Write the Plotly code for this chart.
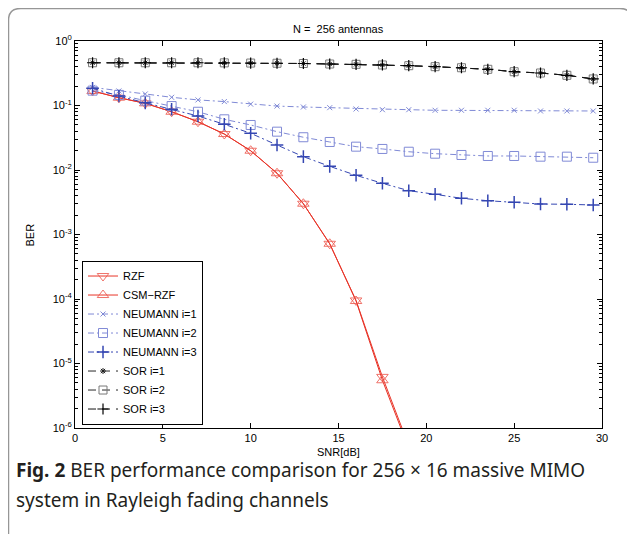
import plotly.graph_objects as go

# ---------------- data ----------------
snr = [1, 2.5, 4, 5.5, 7, 8.5, 10, 11.5, 13, 14.5, 16, 17.5, 19, 20.5, 22, 23.5, 25, 26.5, 28, 29.5]

rzf = [0.168, 0.132, 0.108, 0.080, 0.0561, 0.0361, 0.0199, 0.0089, 0.0030, 0.000718, 9.5e-5, 6.2e-6, 5.3e-7]
csm_rzf = [0.168, 0.132, 0.108, 0.080, 0.0561, 0.0361, 0.0199, 0.0089, 0.0030, 0.000718, 9.3e-5, 5.5e-6, 4.8e-7]

neumann1 = [0.191, 0.168, 0.151, 0.134, 0.122, 0.115, 0.105, 0.098, 0.0948, 0.0925,
            0.0883, 0.0861, 0.0861, 0.0843, 0.0843, 0.0843, 0.0843, 0.0822, 0.0822, 0.0822]
neumann2 = [0.170, 0.146, 0.119, 0.098, 0.080, 0.0611, 0.0499, 0.0393, 0.0322, 0.0272,
            0.0230, 0.0212, 0.0192, 0.0179, 0.0171, 0.0165, 0.0165, 0.0161, 0.0161, 0.0155]
neumann3 = [0.185, 0.140, 0.110, 0.0873, 0.0688, 0.0511, 0.0371, 0.0244, 0.0161, 0.0114,
            0.00827, 0.00622, 0.00478, 0.00420, 0.00364, 0.00334, 0.00316, 0.00297, 0.00294, 0.00287]

sor1 = [0.46, 0.46, 0.46, 0.46, 0.46, 0.458, 0.455, 0.452, 0.448, 0.44,
        0.435, 0.425, 0.414, 0.40, 0.385, 0.364, 0.334, 0.319, 0.294, 0.258]
sor2 = [0.46, 0.46, 0.46, 0.46, 0.46, 0.458, 0.455, 0.452, 0.448, 0.44,
        0.435, 0.425, 0.414, 0.40, 0.385, 0.364, 0.334, 0.319, 0.294, 0.258]
sor3 = [0.46, 0.46, 0.46, 0.46, 0.46, 0.458, 0.455, 0.452, 0.448, 0.44,
        0.435, 0.425, 0.414, 0.40, 0.385, 0.364, 0.334, 0.319, 0.294, 0.258]

x_ticks = [0, 5, 10, 15, 20, 25, 30]
y_tickvals = [1, 1e-1, 1e-2, 1e-3, 1e-4, 1e-5, 1e-6]
y_ticktext = ["10<sup>0</sup>", "10<sup>-1</sup>", "10<sup>-2</sup>", "10<sup>-3</sup>",
              "10<sup>-4</sup>", "10<sup>-5</sup>", "10<sup>-6</sup>"]
y_minor = [k * 10.0 ** e for e in range(-6, 0) for k in range(2, 10)]

FONT = "Liberation Sans, Arial, sans-serif"
RED = "rgb(232,52,40)"
RED_M = "rgba(236,90,80,0.85)"
LBLUE = "rgb(128,138,214)"
DBLUE = "rgb(52,70,178)"

fig = go.Figure()

def add(name, y, color, dash, symbol, size, mcolor=None, lw=1, mlw=1):
    fig.add_trace(go.Scatter(
        x=snr[:len(y)], y=y, name=name, mode="lines+markers",
        line=dict(color=color, width=lw, dash=dash),
        marker=dict(symbol=symbol, size=size, color=mcolor or color,
                    line=dict(width=mlw, color=mcolor or color)),
        cliponaxis=True,
    ))

add("RZF", rzf, RED, "solid", "triangle-down-open", 10, RED_M)
add("CSM\u2212RZF", csm_rzf, RED, "solid", "triangle-up-open", 10, RED_M)
add("NEUMANN i=1", neumann1, LBLUE, "6px,3px,2px,3px", "x-thin-open", 5)
add("NEUMANN i=2", neumann2, LBLUE, "6px,3px,2px,3px", "square-open", 9)
add("NEUMANN i=3", neumann3, DBLUE, "6px,3px,2px,3px", "cross-thin-open", 9, mlw=1.5)
add("SOR i=1", sor1, "rgb(40,40,40)", "8px,6px", "asterisk-open", 5, "rgb(30,30,30)")
add("SOR i=2", sor2, "rgb(40,40,40)", "8px,6px", "square-open", 8, "rgb(120,120,120)")
add("SOR i=3", sor3, "rgb(20,20,20)", "8px,6px", "cross-thin-open", 8, "rgb(0,0,0)", mlw=1.2)

axis_common = dict(
    showline=True, linecolor="black", linewidth=1, mirror="allticks",
    ticks="inside", ticklen=5, tickcolor="black", tickwidth=1,
    showgrid=False, zeroline=False,
    tickfont=dict(family=FONT, size=11, color="black"),
)

fig.update_xaxes(range=[0, 30], tickmode="array", tickvals=x_ticks, **axis_common)
fig.update_yaxes(type="log", range=[-6, 0], tickmode="array", tickvals=y_tickvals,
                 ticktext=y_ticktext,
                 minor=dict(tickmode="array", tickvals=y_minor, ticks="inside",
                            ticklen=3, tickcolor="black", tickwidth=1, showgrid=False),
                 **axis_common)

# rounded frame in paper coords
L, R, T, B = -0.1262, 1.0569, 1.0840, -0.2894
rx, ry = 0.0228, 0.0310
path = (f"M {L},{B} L {L},{T-ry} Q {L},{T} {L+rx},{T} "
        f"L {R-rx},{T} Q {R},{T} {R},{T-ry} L {R},{B}")

fig.update_layout(
    width=635, height=534,
    margin=dict(l=67, r=41, t=33, b=114, pad=0),
    paper_bgcolor="white", plot_bgcolor="white",
    font=dict(family=FONT, size=11, color="black"),
    showlegend=True,
    legend=dict(x=0.0133, y=0.009, xanchor="left", yanchor="bottom",
                bgcolor="white", bordercolor="black", borderwidth=1,
                font=dict(family=FONT, size=11, color="black"),
                tracegroupgap=0, itemwidth=30),
    shapes=[dict(type="path", xref="paper", yref="paper", path=path,
                 line=dict(color="rgb(150,150,150)", width=1.5), layer="below")],
    annotations=[
        dict(text="N =  256 antennas", xref="paper", yref="paper", x=0.5, y=1.031,
             xanchor="center", yanchor="middle", showarrow=False,
             font=dict(family=FONT, size=11, color="black")),
        dict(text="BER", xref="paper", yref="paper", x=-0.0854, y=0.5,
             xanchor="center", yanchor="middle", showarrow=False, textangle=-90,
             font=dict(family=FONT, size=11, color="black")),
        dict(text="SNR[dB]", xref="paper", yref="paper", x=0.5, y=-0.062,
             xanchor="center", yanchor="middle", showarrow=False,
             font=dict(family=FONT, size=11, color="black")),
        dict(text="<b>Fig. 2</b> BER performance comparison for 256 \u00d7 16 massive MIMO",
             xref="paper", yref="paper", x=-0.1157, y=-0.1085,
             xanchor="left", yanchor="middle", showarrow=False,
             font=dict(family="Noto Sans, sans-serif", size=19, color="rgb(35,31,32)")),
        dict(text="system in Rayleigh fading channels",
             xref="paper", yref="paper", x=-0.1157, y=-0.186,
             xanchor="left", yanchor="middle", showarrow=False,
             font=dict(family="Noto Sans, sans-serif", size=19, color="rgb(35,31,32)")),
    ],
)

fig.write_html("out.html")
